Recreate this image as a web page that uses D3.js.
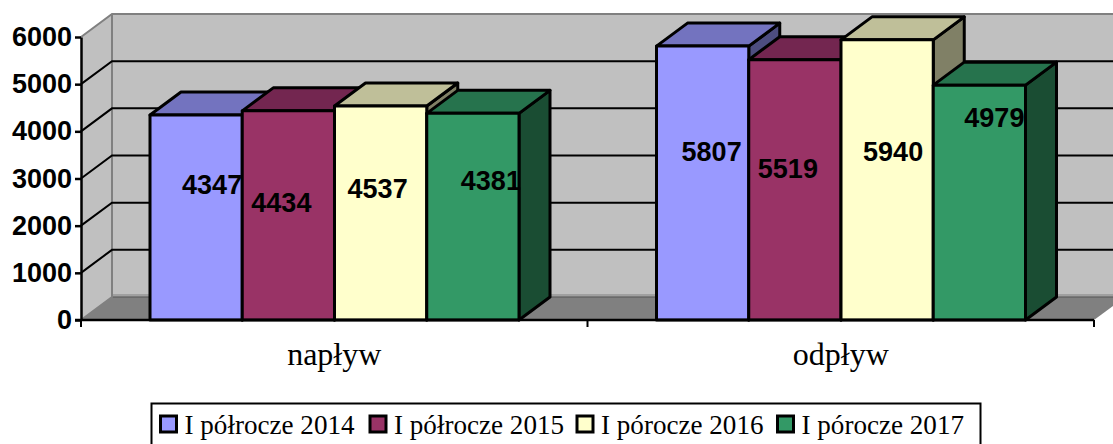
<!DOCTYPE html>
<html>
<head>
<meta charset="utf-8">
<script src="https://cdn.jsdelivr.net/npm/d3@7"></script>
<style>
  html, body { margin: 0; padding: 0; background: #fff; overflow: hidden; }
  svg { display: block; }
</style>
</head>
<body>
<div id="app"></div>
<script>
const categories = ["napływ", "odpływ"];
const series = ["I półrocze 2014", "I półrocze 2015", "I pórocze 2016", "I pórocze 2017"];
const values2014 = [4347, 5807];
const values2015 = [4434, 5519];
const values2016 = [4537, 5940];
const values2017 = [4381, 4979];
const yTicks = [0, 1000, 2000, 3000, 4000, 5000, 6000];

const seriesValues = [values2014, values2015, values2016, values2017];
const frontColors = ["#9999ff", "#993366", "#ffffcc", "#339966"];
const topColors = ["#7373bf", "#732650", "#bfbf99", "#26734d"];
const sideColors = ["#4d4d80", "#4d1a33", "#808066", "#1a4d33"];

// hand placed labels in the original: shift from the bar centre / top
const labelDx = [[16, 9], [-7, -7], [-3, 6], [18, 15]];
const labelDy = [[72, 108], [94, 111], [85, 114], [70, 35]];
const legendX = [160, 369.5, 576.5, 777];

const width = 1113;
const height = 444;
const dx = 31;
const dy = -23;

const y = d3.scaleLinear().domain([0, 6000]).range([320, 37]);
const x0 = d3.scaleBand().domain(categories).range([81, 1094]);
const x1 = d3.scaleBand().domain(series).range([69, 438]);

const svg = d3
  .create("svg")
  .attr("width", width)
  .attr("height", height)
  .attr("viewBox", [0, 0, width, height]);

const left = x0.range()[0];
const right = x0.range()[1];
const wallColor = "#c0c0c0";

function pts(a) {
  return a.map((p) => p.join(",")).join(" ");
}

// back wall
svg
  .append("polygon")
  .attr("points", pts([
    [left + dx, y(6000) + dy],
    [right + dx, y(6000) + dy],
    [right + dx, y(0) + dy],
    [left + dx, y(0) + dy],
  ]))
  .attr("fill", wallColor);

// side wall
svg
  .append("polygon")
  .attr("points", pts([
    [left, y(6000)],
    [left + dx, y(6000) + dy],
    [left + dx, y(0) + dy],
    [left, y(0)],
  ]))
  .attr("fill", wallColor);

// floor
svg
  .append("polygon")
  .attr("points", pts([
    [left, y(0)],
    [left + dx, y(0) + dy],
    [right + dx, y(0) + dy],
    [right, y(0)],
  ]))
  .attr("fill", "#808080");

svg
  .append("rect")
  .attr("x", left + dx)
  .attr("y", y(0) + dy - 3)
  .attr("width", right - left)
  .attr("height", 3)
  .attr("fill", "#a0a0a0");

svg
  .append("line")
  .attr("x1", left + dx)
  .attr("x2", right + dx)
  .attr("y1", y(0) + dy)
  .attr("y2", y(0) + dy)
  .attr("stroke", "#555")
  .attr("stroke-width", 1);

// wall edges
svg
  .append("polyline")
  .attr("points", pts([
    [left, y(6000)],
    [left + dx, y(6000) + dy],
    [right + dx, y(6000) + dy],
  ]))
  .attr("fill", "none")
  .attr("stroke", "#808080")
  .attr("stroke-width", 2);

svg
  .append("polyline")
  .attr("points", pts([
    [left + dx, y(6000) + dy],
    [left + dx, y(0) + dy],
    [left, y(0)],
  ]))
  .attr("fill", "none")
  .attr("stroke", "#808080")
  .attr("stroke-width", 2);

// gridlines
const grid = yTicks.filter((d) => d > 0 && d < 6000);

svg
  .append("g")
  .selectAll("polyline")
  .data(grid)
  .join("polyline")
  .attr("points", (d) => pts([
    [left, y(d)],
    [left + dx, y(d) + dy],
    [right + dx, y(d) + dy],
  ]))
  .attr("fill", "none")
  .attr("stroke", "#000")
  .attr("stroke-width", 2);

// bars, left to right so the next bar covers the side of the previous one
const bars = [];
categories.forEach((c, i) => {
  series.forEach((s, j) => {
    bars.push({ x: x0(c) + x1(s), w: x1.bandwidth(), v: seriesValues[j][i], i, j });
  });
});

const bar = svg
  .append("g")
  .attr("stroke", "#000")
  .attr("stroke-width", 3)
  .attr("stroke-linejoin", "round")
  .selectAll("g")
  .data(bars)
  .join("g");

bar
  .append("polygon")
  .attr("fill", (d) => sideColors[d.j])
  .attr("points", (d) => pts([
    [d.x + d.w, y(d.v)],
    [d.x + d.w + dx, y(d.v) + dy],
    [d.x + d.w + dx, y(0) + dy],
    [d.x + d.w, y(0)],
  ]));

bar
  .append("polygon")
  .attr("fill", (d) => topColors[d.j])
  .attr("points", (d) => pts([
    [d.x, y(d.v)],
    [d.x + dx, y(d.v) + dy],
    [d.x + d.w + dx, y(d.v) + dy],
    [d.x + d.w, y(d.v)],
  ]));

bar
  .append("rect")
  .attr("fill", (d) => frontColors[d.j])
  .attr("x", (d) => d.x)
  .attr("y", (d) => y(d.v))
  .attr("width", (d) => d.w)
  .attr("height", (d) => y(0) - y(d.v));

// value labels
svg
  .append("g")
  .selectAll("text")
  .data(bars)
  .join("text")
  .attr("x", (d) => d.x + d.w / 2 + labelDx[d.j][d.i])
  .attr("y", (d) => y(d.v) + labelDy[d.j][d.i])
  .attr("text-anchor", "middle")
  .attr("dominant-baseline", "middle")
  .attr("font-family", "'Liberation Sans', Arial, sans-serif")
  .attr("font-weight", "700")
  .attr("font-size", 27)
  .attr("fill", "#000")
  .text((d) => d.v);

// y axis
const yAxis = svg
  .append("g")
  .attr("transform", `translate(${left},0)`)
  .call(d3.axisLeft(y).tickValues(yTicks).tickSize(6).tickSizeOuter(0).tickPadding(3).tickFormat(d3.format("d")));

yAxis.selectAll("path, line").attr("stroke", "#000").attr("stroke-width", 2.5);
yAxis
  .selectAll("text")
  .attr("font-family", "'Liberation Sans', Arial, sans-serif")
  .attr("font-weight", "700")
  .attr("font-size", 27)
  .attr("fill", "#000");

// x axis
svg
  .append("line")
  .attr("x1", left - 6)
  .attr("x2", right)
  .attr("y1", y(0))
  .attr("y2", y(0))
  .attr("stroke", "#000")
  .attr("stroke-width", 2.5);

svg
  .append("g")
  .selectAll("line")
  .data([...categories.map((c) => x0(c)), right])
  .join("line")
  .attr("x1", (d) => d)
  .attr("x2", (d) => d)
  .attr("y1", y(0))
  .attr("y2", y(0) + 7)
  .attr("stroke", "#000")
  .attr("stroke-width", 2);

const xAxis = svg
  .append("g")
  .attr("transform", `translate(0,${y(0)})`)
  .call(d3.axisBottom(x0).tickSize(0).tickPadding(22));

xAxis.select(".domain").remove();
xAxis
  .selectAll("text")
  .attr("font-family", "'Liberation Serif', 'Times New Roman', serif")
  .attr("font-size", 32)
  .attr("fill", "#000");

// legend
svg
  .append("rect")
  .attr("x", 151.5)
  .attr("y", 403.5)
  .attr("width", 829)
  .attr("height", 60)
  .attr("fill", "#fff")
  .attr("stroke", "#000")
  .attr("stroke-width", 2);

const legend = svg
  .append("g")
  .selectAll("g")
  .data(series)
  .join("g")
  .attr("transform", (d, i) => `translate(${legendX[i]},0)`);

legend
  .append("rect")
  .attr("x", 0.5)
  .attr("y", 416)
  .attr("width", 16)
  .attr("height", 16)
  .attr("fill", (d, i) => frontColors[i])
  .attr("stroke", "#000")
  .attr("stroke-width", 3);

legend
  .append("text")
  .attr("x", 24.5)
  .attr("y", 434)
  .attr("font-family", "'Liberation Serif', 'Times New Roman', serif")
  .attr("font-size", 27.1)
  .attr("fill", "#000")
  .text((d) => d);

document.getElementById("app").append(svg.node());
</script>
</body>
</html>
